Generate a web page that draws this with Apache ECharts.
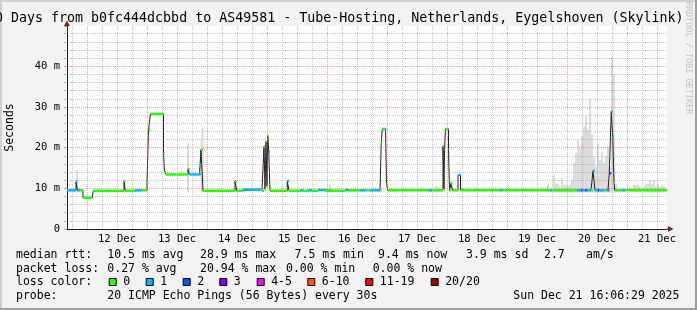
<!DOCTYPE html>
<html><head><meta charset="utf-8">
<script src="https://cdn.jsdelivr.net/npm/echarts@6/dist/echarts.min.js"></script>
<style>html,body{margin:0;padding:0;background:#f2f2f2}#c{width:697px;height:310px}</style>
</head><body><div id="c"></div>
<script>
// ---- DATA (time in hours since 11 Dec 00:00, values in ms) ----
const timeRange = [16, 256];
const dayNoon = [36, 60, 84, 108, 132, 156, 180, 204, 228, 252];
const dayLabels = ['12 Dec','13 Dec','14 Dec','15 Dec','16 Dec','17 Dec','18 Dec','19 Dec','20 Dec','21 Dec'];
const yTickValues = [0, 10, 20, 30, 40];

// median rtt step segments: start hour, value (ms), loss class index
const medianStart = [16.0,19.6,20.2,21.2,22.4,26.2,26.6,38.8,39.3,43.2,46.0,48.0,48.6,49.4,54.6,55.0,55.6,64.4,65.0,69.0,69.6,70.4,83.2,83.9,86.4,94.0,94.8,95.2,95.6,96.0,96.3,96.7,97.2,104.1,104.8,109.2,110.4,112.4,114.0,116.4,119.2,127.2,128.4,133.2,135.6,137.2,141.2,141.7,142.1,143.4,143.8,144.3,160.7,162.0,166.4,166.8,167.0,167.4,168.6,169.0,169.6,170.2,172.4,173.4,189.2,190.0,209.2,210.2,220.0,221.6,222.2,223.2,224.0,225.6,226.4,227.2,228.4,228.8,230.8,231.6,232.4,232.9,233.7,234.3,234.8,235.1,238.0,239.2];
const medianValue = [9.5,11.6,9.5,9.5,7.7,8.6,9.4,11.8,9.4,9.5,9.5,11.4,24.4,28.3,18.5,14.1,13.4,14.7,13.4,13.5,19.5,9.4,11.8,9.4,9.7,9.4,20.3,9.8,21.5,10.5,22.9,19.0,9.4,11.8,9.4,9.5,9.4,9.5,9.4,9.6,9.4,9.6,9.5,9.5,9.5,9.5,9.5,21.1,24.6,24.6,11.2,9.5,9.5,9.5,20.3,9.8,19.5,24.6,19.5,9.5,11.2,9.5,13.3,9.5,9.5,9.5,9.5,9.5,9.5,9.5,9.5,9.5,9.5,9.5,14.3,9.5,9.5,9.5,9.5,9.5,9.5,13.7,28.9,22.7,11.4,9.5,9.5,9.5];
const medianLoss = [1,1,1,0,0,1,0,0,0,1,0,0,0,0,0,0,0,1,1,1,0,0,0,0,1,0,0,0,0,0,0,1,0,1,0,1,0,1,0,1,0,1,0,1,0,1,0,0,0,1,0,0,1,0,1,0,0,0,0,0,0,0,1,0,1,0,1,0,1,3,1,2,1,0,1,1,3,1,0,1,4,3,1,1,0,0,1,0];

// smoke (spread of pings): hour, top of smoke (ms)
const smokeTime = [20.0,64.4,69.8,70.2,121.2,164.0,169.8,208.4,210.8,211.6,212.4,213.2,214.0,214.8,215.6,216.4,217.2,218.0,218.8,219.6,220.4,221.2,222.0,222.8,223.6,224.4,225.2,226.0,226.8,227.6,228.4,229.2,230.0,230.8,231.6,232.4,233.2,234.0,234.8,235.6,242.8,243.6,244.4,245.2,246.8,247.6,248.4,249.2,250.0,250.8,251.6,252.4,253.2,254.0,254.8];
const smokeTop = [14.5,21.2,22.0,24.8,10.8,10.6,12.0,11.2,13.3,11.2,11.2,10.5,12.5,10.8,10.8,10.5,10.8,12.0,16.2,18.6,21.9,19.9,22.7,25.2,27.7,24.4,32.0,23.2,17.8,15.3,21.1,17.0,19.0,16.2,17.8,20.3,15.3,42.3,38.0,11.2,10.8,10.8,11.0,10.5,10.5,11.2,11.2,12.0,11.0,12.0,10.5,11.2,10.5,10.8,10.5];
const smokeBase = 9.0;

const lossLabels = ['0','1','2','3','4-5','6-10','11-19','20/20'];
const lossColors = ['#26ff00','#00b8ff','#0059ff','#7e00ff','#ff00ff','#ff5500','#ff0000','#a10000'];

const titleText = '10 Days from b0fc444dcbbd to AS49581 - Tube-Hosting, Netherlands, Eygelshoven (Skylink)';
const statRows = [
  ['median rtt:','10.5 ms avg','28.9 ms max','7.5 ms min','9.4 ms now','3.9 ms sd','2.7','am/s'],
  ['packet loss:','0.27 % avg','20.94 % max','0.00 % min','0.00 % now'],
  ['loss color:'],
  ['probe:','20 ICMP Echo Pings (56 Bytes) every 30s','Sun Dec 21 16:06:29 2025']
];

// ---- LAYOUT ----
const statX = [
  [16,107.3,200,294.6,378,466,544,586],
  [16,107.3,200,286,372.7],
  [16],
  [16,107.3,513.3]
];
const rowY = [255, 268.7, 282.4, 296.1];
const boxX = [108.7,145.7,182.7,219.3,256.7,307.3,365.3,430.7];
const MONO = '"DejaVu Sans Mono"';

const segData = medianStart.map((s,i)=>[s, i+1<medianStart.length?medianStart[i+1]:timeRange[1], medianValue[i], medianLoss[i]]);
const lineData = [];
segData.forEach(d=>{lineData.push([d[0],d[2]]);lineData.push([d[1],d[2]]);});
const smokeData = smokeTime.map((t,i)=>[t, smokeTop[i]]);

const grayX=[], redX=[];
for(let h=18; h<timeRange[1]; h+=6){ (h%24===0?redX:grayX).push({xAxis:h}); }
const grayY=[], redY=[];
for(let v=2; v<50; v+=2){ (v%10===0?redY:grayY).push({yAxis:v}); }

const graphics = [];
graphics.push({type:'rect',shape:{x:0,y:0,width:697,height:2},style:{fill:'#cfcfcf'},silent:true});
graphics.push({type:'rect',shape:{x:0,y:0,width:2,height:310},style:{fill:'#cfcfcf'},silent:true});
graphics.push({type:'rect',shape:{x:0,y:308,width:697,height:2},style:{fill:'#9e9e9e'},silent:true});
graphics.push({type:'rect',shape:{x:695,y:0,width:2,height:310},style:{fill:'#9e9e9e'},silent:true});
graphics.push({type:'text',x:-13,y:19,style:{text:titleText,font:'13.3px '+MONO,fill:'#000',textAlign:'left',verticalAlign:'middle'},silent:true});
graphics.push({type:'text',x:10.5,y:127.5,rotation:Math.PI/2,style:{text:'Seconds',font:'11.5px '+MONO,fill:'#000',textAlign:'center',verticalAlign:'middle'},silent:true});
graphics.push({type:'text',x:688,y:58,rotation:-Math.PI/2,style:{text:'RRDTOOL / TOBI OETIKER',font:'8.5px '+MONO,fill:'#c4c4c4',textAlign:'center',verticalAlign:'middle'},silent:true});
graphics.push({type:'polygon',shape:{points:[[67,20.5],[64,26],[70,26]]},style:{fill:'#7f1f1f'},silent:true,z:100});
graphics.push({type:'polygon',shape:{points:[[673.5,229],[668,226],[668,232]]},style:{fill:'#7f1f1f'},silent:true,z:100});
graphics.push({type:'line',shape:{x1:667,y1:229,x2:668,y2:229},style:{stroke:'#1f1f1f',lineWidth:1},silent:true});
statRows.forEach((row,r)=>row.forEach((t,k)=>{
  graphics.push({type:'text',x:statX[r][k],y:rowY[r],style:{text:t,font:'11.5px '+MONO,fill:'#000',textAlign:'left',verticalAlign:'middle'},silent:true});
}));
lossLabels.forEach((l,i)=>{
  graphics.push({type:'rect',shape:{x:boxX[i]+0.5,y:278.5,width:7,height:7},style:{fill:lossColors[i],stroke:'#000',lineWidth:1},silent:true});
  graphics.push({type:'text',x:boxX[i]+14.5,y:rowY[2],style:{text:l,font:'11.5px '+MONO,fill:'#000',textAlign:'left',verticalAlign:'middle'},silent:true});
});

const chart = echarts.init(document.getElementById('c'), null, {renderer:'canvas', width:697, height:310});
chart.setOption({
  animation:false,
  backgroundColor:'#f2f2f2',
  textStyle:{fontFamily:'DejaVu Sans Mono'},
  grid:{left:67, top:26, right:30, bottom:81, show:true, backgroundColor:'#ffffff', borderWidth:0},
  xAxis:{type:'value', min:timeRange[0], max:timeRange[1],
    axisLine:{show:true, lineStyle:{color:'#1f1f1f', width:1}},
    axisTick:{show:false}, splitLine:{show:false},
    axisLabel:{customValues:dayNoon, formatter:v=>dayLabels[dayNoon.indexOf(v)]||'', fontFamily:'DejaVu Sans Mono', fontSize:10.5, color:'#000', margin:5}
  },
  yAxis:{type:'value', min:0, max:49.9, interval:10,
    axisLine:{show:true, lineStyle:{color:'#1f1f1f', width:1}},
    axisTick:{show:true, length:3, lineStyle:{color:'rgba(222,79,79,0.6)'}},
    minorTick:{show:true, splitNumber:5, length:3, lineStyle:{color:'rgba(143,143,143,0.6)'}},
    splitLine:{show:false},
    axisLabel:{formatter:v=>yTickValues.indexOf(v)<0?'':(v===0?'0':v+' m'), fontFamily:'DejaVu Sans Mono', fontSize:10.5, color:'#000', margin:7}
  },
  series:[
    {type:'custom', name:'smoke', z:2, silent:true, data:smokeData, encode:{x:0,y:1},
      renderItem:(p,api)=>{const t=api.value(0),v=api.value(1);const a=api.coord([t-0.4,v]),b=api.coord([t+0.4,smokeBase]);
        return {type:'rect',shape:{x:a[0],y:a[1],width:b[0]-a[0],height:b[1]-a[1]},style:{fill:'#dcdcdc'}};}},
    {type:'line', name:'grid', z:3, silent:true, data:[], markLine:{silent:true, symbol:['none','none'], label:{show:false}, animation:false,
      lineStyle:{color:'rgba(143,143,143,0.5)', type:[1,1], width:1}, emphasis:{disabled:true},
      data:grayX.concat(grayY)}},
    {type:'line', name:'grid2', z:3, silent:true, data:[], markLine:{silent:true, symbol:['none','none'], label:{show:false}, animation:false,
      lineStyle:{color:'rgba(222,79,79,0.5)', type:[1,1], width:1}, emphasis:{disabled:true},
      data:redX.concat(redY)}},
    {type:'line', name:'median', z:4, silent:true, data:lineData, showSymbol:false, symbol:'none',
      lineStyle:{color:'#202020', width:1}},
    {type:'custom', name:'loss', z:5, silent:true, data:segData, encode:{x:[0,1],y:2},
      renderItem:(p,api)=>{const s=api.value(0),e=api.value(1),v=api.value(2),l=api.value(3);
        const a=api.coord([s,v]),b=api.coord([e,v]);
        return {type:'rect',shape:{x:a[0],y:a[1]-1.25,width:Math.max(b[0]-a[0],1),height:2.5},style:{fill:lossColors[l]}};}}
  ],
  graphic:{elements:graphics}
});
</script></body></html>
